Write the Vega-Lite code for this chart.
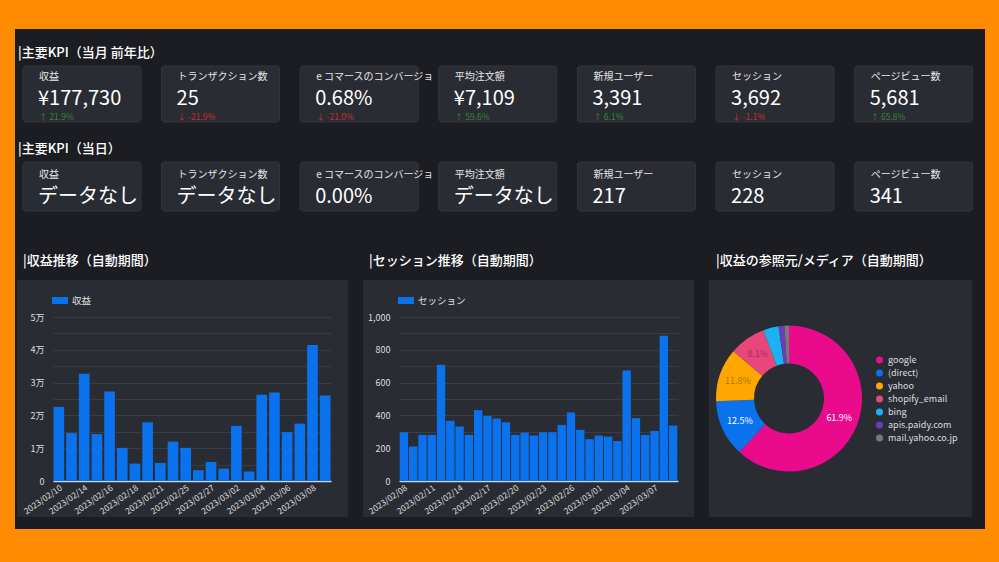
{
  "$schema": "https://vega.github.io/schema/vega-lite/v6.json",
  "background": "#ff8c00",
  "padding": {"left": 15, "top": 29, "right": 14, "bottom": 33},
  "config": {
    "font": "Noto Sans CJK JP",
    "view": {"fill": "#1c1d22", "stroke": "transparent", "strokeWidth": 0},
    "concat": {"spacing": 0}
  },
  "datasets": {
    "kpiMonth": [
      {"kpi": "収益", "value": "¥177,730", "changeText": "↑ 21.9%", "change": 21.9},
      {"kpi": "トランザクション数", "value": "25", "changeText": "↓ -21.9%", "change": -21.9},
      {"kpi": "e コマースのコンバージョン率", "value": "0.68%", "changeText": "↓ -21.0%", "change": -21.0},
      {"kpi": "平均注文額", "value": "¥7,109", "changeText": "↑ 59.6%", "change": 59.6},
      {"kpi": "新規ユーザー", "value": "3,391", "changeText": "↑ 6.1%", "change": 6.1},
      {"kpi": "セッション", "value": "3,692", "changeText": "↓ -1.1%", "change": -1.1},
      {"kpi": "ページビュー数", "value": "5,681", "changeText": "↑ 65.8%", "change": 65.8}
    ],
    "kpiToday": [
      {"kpi": "収益", "value": "データなし"},
      {"kpi": "トランザクション数", "value": "データなし"},
      {"kpi": "e コマースのコンバージョン率", "value": "0.00%"},
      {"kpi": "平均注文額", "value": "データなし"},
      {"kpi": "新規ユーザー", "value": "217"},
      {"kpi": "セッション", "value": "228"},
      {"kpi": "ページビュー数", "value": "341"}
    ],
    "revenue": [
      {"date": "2023/02/10", "revenue": 22600},
      {"date": "2023/02/12", "revenue": 14600},
      {"date": "2023/02/14", "revenue": 32700},
      {"date": "2023/02/15", "revenue": 14300},
      {"date": "2023/02/16", "revenue": 27300},
      {"date": "2023/02/17", "revenue": 10100},
      {"date": "2023/02/18", "revenue": 5300},
      {"date": "2023/02/20", "revenue": 17900},
      {"date": "2023/02/21", "revenue": 5500},
      {"date": "2023/02/23", "revenue": 12000},
      {"date": "2023/02/25", "revenue": 10100},
      {"date": "2023/02/26", "revenue": 3300},
      {"date": "2023/02/27", "revenue": 5800},
      {"date": "2023/03/01", "revenue": 3800},
      {"date": "2023/03/02", "revenue": 16800},
      {"date": "2023/03/03", "revenue": 2900},
      {"date": "2023/03/04", "revenue": 26300},
      {"date": "2023/03/05", "revenue": 27000},
      {"date": "2023/03/06", "revenue": 14900},
      {"date": "2023/03/07", "revenue": 17500},
      {"date": "2023/03/08", "revenue": 41500},
      {"date": "2023/03/09", "revenue": 26100}
    ],
    "sessions": [
      {"date": "2023/02/08", "sessions": 297},
      {"date": "2023/02/09", "sessions": 210},
      {"date": "2023/02/10", "sessions": 281},
      {"date": "2023/02/11", "sessions": 281},
      {"date": "2023/02/12", "sessions": 709},
      {"date": "2023/02/13", "sessions": 367},
      {"date": "2023/02/14", "sessions": 332},
      {"date": "2023/02/15", "sessions": 281},
      {"date": "2023/02/16", "sessions": 432},
      {"date": "2023/02/17", "sessions": 397},
      {"date": "2023/02/18", "sessions": 381},
      {"date": "2023/02/19", "sessions": 358},
      {"date": "2023/02/20", "sessions": 281},
      {"date": "2023/02/21", "sessions": 295},
      {"date": "2023/02/22", "sessions": 277},
      {"date": "2023/02/23", "sessions": 297},
      {"date": "2023/02/24", "sessions": 297},
      {"date": "2023/02/25", "sessions": 342},
      {"date": "2023/02/26", "sessions": 418},
      {"date": "2023/02/27", "sessions": 312},
      {"date": "2023/02/28", "sessions": 255},
      {"date": "2023/03/01", "sessions": 277},
      {"date": "2023/03/02", "sessions": 271},
      {"date": "2023/03/03", "sessions": 244},
      {"date": "2023/03/04", "sessions": 674},
      {"date": "2023/03/05", "sessions": 383},
      {"date": "2023/03/06", "sessions": 281},
      {"date": "2023/03/07", "sessions": 305},
      {"date": "2023/03/08", "sessions": 886},
      {"date": "2023/03/09", "sessions": 338}
    ],
    "sources": [
      {"source": "google", "share": 0.619, "idx": 1},
      {"source": "(direct)", "share": 0.125, "idx": 2},
      {"source": "yahoo", "share": 0.118, "idx": 3},
      {"source": "shopify_email", "share": 0.081, "idx": 4},
      {"source": "bing", "share": 0.034, "idx": 5},
      {"source": "apis.paidy.com", "share": 0.013, "idx": 6},
      {"source": "mail.yahoo.co.jp", "share": 0.010, "idx": 7}
    ]
  },
  "spacing": -1,
  "bounds": "full",
  "resolve": {"scale": {"color": "independent"}, "legend": {"color": "independent"}},
  "vconcat": [
    {
      "width": 970,
      "height": 99,
      "view": {"fill": "#1c1d22", "stroke": "transparent", "strokeWidth": 0},
      "data": {"name": "kpiMonth"},
      "layer": [
        {
          "data": {"values": [{"t": "|主要KPI（当月 前年比）"}]},
          "mark": {"type": "text", "x": 3, "y": 24, "align": "left", "baseline": "middle", "fontSize": 13, "fontWeight": 500, "color": "#ffffff"},
          "encoding": {"text": {"field": "t"}}
        },
        {
          "mark": {"type": "rect", "y": 37, "y2": 93, "fill": "#2a2c33", "stroke": "#34363d", "strokeWidth": 1, "cornerRadius": 3},
          "encoding": {"x": {"field": "kpi", "type": "nominal", "sort": null, "scale": {"type": "band", "range": [8, 957.6], "paddingInner": 0.149, "paddingOuter": 0}, "axis": null}}
        },
        {
          "mark": {"type": "text", "y": 48, "dx": 16, "align": "left", "baseline": "middle", "fontSize": 10, "color": "#e6e6e6", "limit": 119, "ellipsis": "\u200b"},
          "encoding": {"x": {"field": "kpi", "type": "nominal", "sort": null, "bandPosition": 0, "axis": null}, "text": {"field": "kpi"}}
        },
        {
          "mark": {"type": "text", "y": 70, "dx": 15, "align": "left", "baseline": "middle", "fontSize": 20, "color": "#ffffff"},
          "encoding": {"x": {"field": "kpi", "type": "nominal", "sort": null, "bandPosition": 0, "axis": null}, "text": {"field": "value"}}
        },
        {
          "mark": {"type": "text", "y": 88, "dx": 16, "align": "left", "baseline": "middle", "fontSize": 8.5},
          "encoding": {
            "x": {"field": "kpi", "type": "nominal", "sort": null, "bandPosition": 0, "axis": null},
            "text": {"field": "changeText"},
            "color": {"condition": {"test": "datum.change > 0", "value": "#2f8a3a"}, "value": "#c4302b"}
          }
        }
      ]
    },
    {
      "width": 970,
      "height": 93,
      "view": {"fill": "#1c1d22", "stroke": "transparent", "strokeWidth": 0},
      "data": {"name": "kpiToday"},
      "layer": [
        {
          "data": {"values": [{"t": "|主要KPI（当日）"}]},
          "mark": {"type": "text", "x": 3, "y": 21, "align": "left", "baseline": "middle", "fontSize": 13, "fontWeight": 500, "color": "#ffffff"},
          "encoding": {"text": {"field": "t"}}
        },
        {
          "mark": {"type": "rect", "y": 34, "y2": 83, "fill": "#2a2c33", "stroke": "#34363d", "strokeWidth": 1, "cornerRadius": 3},
          "encoding": {"x": {"field": "kpi", "type": "nominal", "sort": null, "scale": {"type": "band", "range": [8, 957.6], "paddingInner": 0.149, "paddingOuter": 0}, "axis": null}}
        },
        {
          "mark": {"type": "text", "y": 47, "dx": 16, "align": "left", "baseline": "middle", "fontSize": 10, "color": "#e6e6e6", "limit": 119, "ellipsis": "\u200b"},
          "encoding": {"x": {"field": "kpi", "type": "nominal", "sort": null, "bandPosition": 0, "axis": null}, "text": {"field": "kpi"}}
        },
        {
          "mark": {"type": "text", "y": 69, "dx": 15, "align": "left", "baseline": "middle", "fontSize": 20, "color": "#ffffff"},
          "encoding": {"x": {"field": "kpi", "type": "nominal", "sort": null, "bandPosition": 0, "axis": null}, "text": {"field": "value"}}
        }
      ]
    },
    {
      "width": 970,
      "height": 59,
      "view": {"fill": "#1c1d22", "stroke": "transparent", "strokeWidth": 0},
      "layer": [
        {
          "data": {"values": [{"t": "|収益推移（自動期間）"}]},
          "mark": {"type": "text", "x": 8, "y": 40, "align": "left", "baseline": "middle", "fontSize": 13, "fontWeight": 500, "color": "#ffffff"},
          "encoding": {"text": {"field": "t"}}
        },
        {
          "data": {"values": [{"t": "|セッション推移（自動期間）"}]},
          "mark": {"type": "text", "x": 354, "y": 40, "align": "left", "baseline": "middle", "fontSize": 13, "fontWeight": 500, "color": "#ffffff"},
          "encoding": {"text": {"field": "t"}}
        },
        {
          "data": {"values": [{"t": "|収益の参照元/メディア（自動期間）"}]},
          "mark": {"type": "text", "x": 701, "y": 40, "align": "left", "baseline": "middle", "fontSize": 13, "fontWeight": 500, "color": "#ffffff"},
          "encoding": {"text": {"field": "t"}}
        }
      ]
    },
    {
      "spacing": 0,
      "bounds": "flush",
      "resolve": {"scale": {"color": "independent"}, "legend": {"color": "independent"}},
      "hconcat": [
        {"width": 2, "height": 237, "view": {"fill": "#1c1d22", "stroke": "transparent", "strokeWidth": 0}, "data": {"values": [{}]}, "mark": "text", "encoding": {}},
        {
          "width": 331,
          "height": 237,
          "view": {"fill": "#2a2c33", "stroke": "transparent", "strokeWidth": 0},
          "data": {"name": "revenue"},
          "mark": {"type": "bar"},
          "encoding": {
            "x": {
              "field": "date", "type": "ordinal", "sort": null,
              "scale": {"range": [36, 314], "paddingInner": 0.16, "paddingOuter": 0.04},
              "axis": {"title": null, "offset": -36, "values": ["2023/02/10", "2023/02/14", "2023/02/16", "2023/02/18", "2023/02/21", "2023/02/25", "2023/02/27", "2023/03/02", "2023/03/04", "2023/03/06", "2023/03/08"], "labelAngle": -35, "labelFontSize": 8.5, "labelColor": "#dddddd", "ticks": false, "domainColor": "#c9d3e3", "domainWidth": 1.5, "labelPadding": 2, "grid": false}
            },
            "y": {
              "field": "revenue", "type": "quantitative",
              "scale": {"domain": [0, 50000], "range": [201, 37], "nice": false},
              "axis": {"title": null, "offset": -36, "values": [0, 5000, 10000, 15000, 20000, 25000, 30000, 35000, 40000, 45000, 50000], "labelExpr": "datum.value % 10000 == 0 ? (datum.value == 0 ? '0' : (datum.value / 10000) + '万') : ''", "domain": false, "ticks": false, "grid": true, "gridColor": "#3a3c44", "labelColor": "#dddddd", "labelFontSize": 9, "labelPadding": 9}
            },
            "color": {
              "datum": "収益", "type": "nominal",
              "scale": {"range": ["#0b72ee"]},
              "legend": {"orient": "none", "legendX": 35, "legendY": 12.5, "title": null, "symbolType": "M-1,-0.44H1V0.44H-1Z", "symbolSize": 256, "symbolStrokeWidth": 0, "labelColor": "#e0e0e0", "labelFontSize": 9.5, "labelOffset": 4, "padding": 0}
            }
          }
        },
        {"width": 15, "height": 237, "view": {"fill": "#1c1d22", "stroke": "transparent", "strokeWidth": 0}, "data": {"values": [{}]}, "mark": "text", "encoding": {}},
        {
          "width": 331,
          "height": 237,
          "view": {"fill": "#2a2c33", "stroke": "transparent", "strokeWidth": 0},
          "data": {"name": "sessions"},
          "mark": {"type": "bar"},
          "encoding": {
            "x": {
              "field": "date", "type": "ordinal", "sort": null,
              "scale": {"range": [36, 315], "paddingInner": 0.1, "paddingOuter": 0.08},
              "axis": {"title": null, "offset": -36, "values": ["2023/02/08", "2023/02/11", "2023/02/14", "2023/02/17", "2023/02/20", "2023/02/23", "2023/02/26", "2023/03/01", "2023/03/04", "2023/03/07"], "labelAngle": -35, "labelFontSize": 8.5, "labelColor": "#dddddd", "ticks": false, "domainColor": "#c9d3e3", "domainWidth": 1.5, "labelPadding": 2, "grid": false}
            },
            "y": {
              "field": "sessions", "type": "quantitative",
              "scale": {"domain": [0, 1000], "range": [201, 37], "nice": false},
              "axis": {"title": null, "offset": -36, "values": [0, 100, 200, 300, 400, 500, 600, 700, 800, 900, 1000], "labelExpr": "datum.value % 200 == 0 ? format(datum.value, ',') : ''", "domain": false, "ticks": false, "grid": true, "gridColor": "#3a3c44", "labelColor": "#dddddd", "labelFontSize": 9, "labelPadding": 9}
            },
            "color": {
              "datum": "セッション", "type": "nominal",
              "scale": {"range": ["#0b72ee"]},
              "legend": {"orient": "none", "legendX": 35, "legendY": 12.5, "title": null, "symbolType": "M-1,-0.44H1V0.44H-1Z", "symbolSize": 256, "symbolStrokeWidth": 0, "labelColor": "#e0e0e0", "labelFontSize": 9.5, "labelOffset": 4, "padding": 0}
            }
          }
        },
        {"width": 15, "height": 237, "view": {"fill": "#1c1d22", "stroke": "transparent", "strokeWidth": 0}, "data": {"values": [{}]}, "mark": "text", "encoding": {}},
        {
          "width": 160,
          "height": 237,
          "view": {"fill": "#2a2c33", "stroke": "transparent", "strokeWidth": 0},
          "data": {"name": "sources"},
          "encoding": {
            "theta": {"field": "share", "type": "quantitative", "stack": true},
            "order": {"field": "idx", "type": "quantitative"},
            "color": {
              "field": "source", "type": "nominal",
              "scale": {"domain": ["google", "(direct)", "yahoo", "shopify_email", "bing", "apis.paidy.com", "mail.yahoo.co.jp"], "range": ["#ea0b8c", "#0b72ee", "#ffa600", "#e8477b", "#1ab2f5", "#6a3fb5", "#7a7a7a"]},
              "legend": null
            }
          },
          "layer": [
            {"mark": {"type": "arc", "innerRadius": 35, "outerRadius": 73}},
            {
              "mark": {"type": "text", "radius": 54, "fontSize": 9, "align": "center", "baseline": "middle"},
              "encoding": {
                "text": {"condition": {"test": "datum.share >= 0.05", "field": "share", "type": "quantitative", "format": ".1%"}, "value": ""},
                "color": {"condition": [{"test": "datum.source == 'yahoo'", "value": "#a97a05"}, {"test": "datum.source == 'shopify_email'", "value": "#a82a5e"}], "value": "#ffffff"}
              }
            }
          ]
        },
        {
          "width": 103,
          "height": 237,
          "view": {"fill": "#2a2c33", "stroke": "transparent", "strokeWidth": 0},
          "data": {"name": "sources"},
          "mark": {"type": "circle", "opacity": 0},
          "encoding": {
            "color": {
              "field": "source", "type": "nominal",
              "scale": {"domain": ["google", "(direct)", "yahoo", "shopify_email", "bing", "apis.paidy.com", "mail.yahoo.co.jp"], "range": ["#ea0b8c", "#0b72ee", "#ffa600", "#e8477b", "#1ab2f5", "#6a3fb5", "#7a7a7a"]},
              "legend": {"orient": "none", "legendX": 6, "legendY": 75.5, "title": null, "symbolType": "circle", "symbolSize": 49, "symbolOpacity": 1, "symbolStrokeWidth": 0, "labelColor": "#dddddd", "labelFontSize": 9, "labelOffset": 4, "rowPadding": 3, "padding": 0}
            }
          }
        },
        {"width": 13, "height": 237, "view": {"fill": "#1c1d22", "stroke": "transparent", "strokeWidth": 0}, "data": {"values": [{}]}, "mark": "text", "encoding": {}}
      ]
    },
    {"width": 970, "height": 12, "view": {"fill": "#1c1d22", "stroke": "transparent", "strokeWidth": 0}, "data": {"values": [{}]}, "mark": "text", "encoding": {}}
  ]
}
